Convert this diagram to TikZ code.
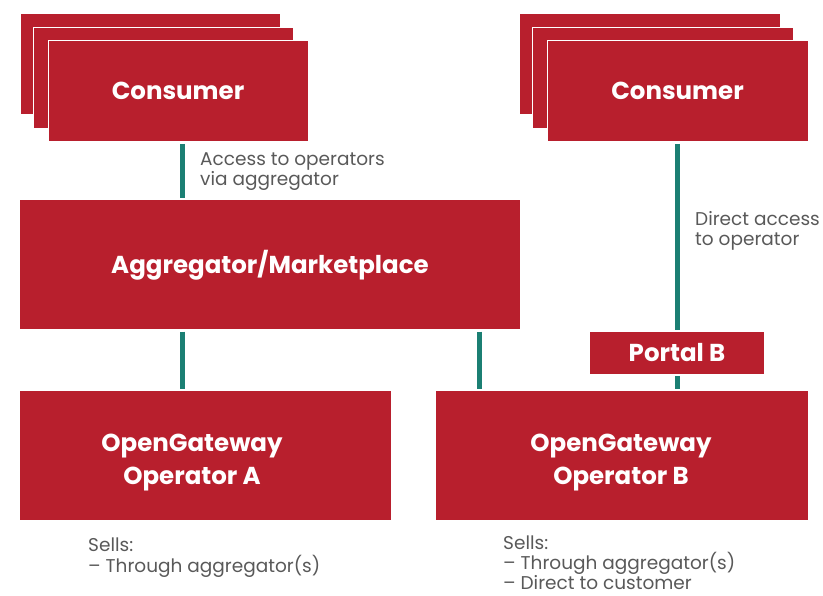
\documentclass[tikz,border=0pt]{standalone}
\usepackage{fontspec}
\setmainfont{Poppins}
\usepackage{tikz}
\definecolor{boxred}{HTML}{B81F2D}
\definecolor{linkteal}{HTML}{1B7F73}
\definecolor{notegray}{HTML}{595959}

\begin{document}
\begin{tikzpicture}[x=1pt,y=-1pt,
        box/.style={fill=boxred, draw=none, inner sep=0pt, text=white,
            font=\fontsize{24.5}{33}\selectfont\bfseries, align=center},
        link/.style={draw=linkteal, line width=5pt, shorten <=2pt, shorten >=2pt},
        note/.style={anchor=base west, inner sep=0pt, text=notegray, align=left,
            font=\fontsize{18.5}{20.5}\selectfont}
    ]
    \useasboundingbox (0,0) rectangle (823,596);
    % consumer stacks
    \foreach \dx/\dy in {150/63.5, 163.5/77.5} {
        \node[box, minimum width=260pt, minimum height=101pt, draw=white, line width=0.8pt] at (\dx,\dy) {};
        \node[box, minimum width=261pt, minimum height=101pt, draw=white, line width=0.8pt] at (\dx+499.5,\dy) {};
    }
    \node[box, minimum width=260pt, minimum height=101pt, draw=white, line width=0.8pt] (conL) at (178,91) {Consumer};
    \node[box, minimum width=261pt, minimum height=101pt, draw=white, line width=0.8pt] (conR) at (677.5,91) {Consumer};

    \node[box, minimum width=500pt, minimum height=129pt] (agg) at (270,265) {Aggregator/Marketplace};
    \node[box, minimum width=174pt, minimum height=42pt] (portal) at (677,353) {Portal B};
    \node[box, minimum width=371pt, minimum height=129pt] (opA) at (205.5,455.5) {};
    \node[box] (opAtxt) at (192,462.5) {OpenGateway\\Operator A};
    \node[box, minimum width=372pt, minimum height=129pt] (opB) at (622,455.5) {};
    \node[box] (opBtxt) at (621,462.5) {OpenGateway\\Operator B};

    % columns of the links
    \coordinate (colA) at (182,0);
    \coordinate (colB) at (479,0);
    \coordinate (colP) at (677,0);
    \draw[link] (conL.south -| colA) -- (agg.north -| colA);
    \draw[link] (agg.south -| colA) -- (opA.north -| colA);
    \draw[link] (agg.south -| colB) -- (opB.north -| colB);
    \draw[link] (conR.south -| colP) -- (portal.north -| colP);
    \draw[link] (portal.south -| colP) -- (opB.north -| colP);

    \node[note] (noteAgg) at (200,186) {Access to operators\\via aggregator};
    \node[note] (noteDir) at (695,246) {Direct access\\to operator};
    \node[note] (sellsA) at (88,572) {Sells:\\– Through aggregator(s)};
    \node[note, font=\fontsize{18.5}{20}\selectfont] (sellsB) at (503,589) {Sells:\\– Through aggregator(s)\\– Direct to customer};
\end{tikzpicture}
\end{document}
